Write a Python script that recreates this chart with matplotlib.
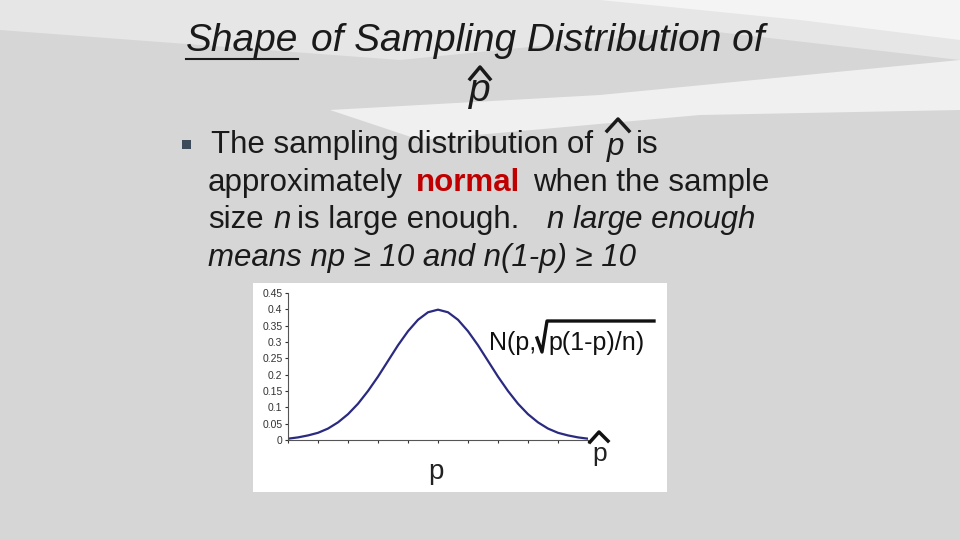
import matplotlib

matplotlib.use("Agg")
import matplotlib.pyplot as plt
import numpy as np
from matplotlib.patches import Polygon, Rectangle

plt.rcParams["font.family"] = ["Liberation Sans", "DejaVu Sans"]

# curve (x in sd units, height)
curve_x = [-3.0, -2.8, -2.6, -2.4, -2.2, -2.0, -1.8, -1.6, -1.4, -1.2, -1.0,
           -0.8, -0.6, -0.4, -0.2, 0.0, 0.2, 0.4, 0.6, 0.8, 1.0, 1.2, 1.4,
           1.6, 1.8, 2.0, 2.2, 2.4, 2.6, 2.8, 3.0]
curve_y = [0.004, 0.008, 0.014, 0.022, 0.035, 0.054, 0.079, 0.111, 0.150,
           0.194, 0.242, 0.290, 0.333, 0.368, 0.391, 0.399, 0.391, 0.368,
           0.333, 0.290, 0.242, 0.194, 0.150, 0.111, 0.079, 0.054, 0.035,
           0.022, 0.014, 0.008, 0.004]
y_ticks = [0, 0.05, 0.1, 0.15, 0.2, 0.25, 0.3, 0.35, 0.4, 0.45]
y_labels = ["0", "0.05", "0.1", "0.15", "0.2", "0.25", "0.3", "0.35", "0.4", "0.45"]
x_ticks = np.arange(-3.0, 3.01, 0.6)

W, H = 960, 540
fig = plt.figure(figsize=(9.6, 5.4), dpi=100)
fig.patch.set_facecolor("#d6d6d6")


def fx(px):
    return px / W


def fy(py):
    return 1 - py / H


# background swooshes
bg = fig.add_axes([0, 0, 1, 1])
bg.set_xlim(0, W)
bg.set_ylim(H, 0)
bg.axis("off")
bg.add_patch(Polygon([[0, 0], [960, 0], [960, 60], [700, 30], [400, 60], [0, 30]],
                     closed=True, facecolor="#e6e6e6", edgecolor="none"))
bg.add_patch(Polygon([[330, 110], [600, 95], [960, 60], [960, 110], [700, 115], [420, 140]],
                     closed=True, facecolor="#f0f0f0", edgecolor="none"))
bg.add_patch(Polygon([[600, 0], [960, 0], [960, 40], [800, 20]],
                     closed=True, facecolor="#f4f4f4", edgecolor="none"))
# white chart image
bg.add_patch(Rectangle((253, 283), 414, 209, facecolor="white", edgecolor="none"))

ax = fig.add_axes([fx(288), fy(440), fx(588 - 288), (440 - 293) / H])
ax.set_facecolor("white")
ax.plot(curve_x, curve_y, color="#2a2a80", lw=1.6)
ax.set_xlim(-3.0, 3.0)
ax.set_ylim(0, 0.45)
ax.set_yticks(y_ticks)
ax.set_yticklabels(y_labels)
ax.set_xticks(x_ticks)
ax.set_xticklabels([])
ax.tick_params(axis="y", labelsize=7.5, colors="#333333", length=2, pad=2)
ax.tick_params(axis="x", length=2, colors="#333333")
for side in ["top", "right"]:
    ax.spines[side].set_visible(False)
for side in ["left", "bottom"]:
    ax.spines[side].set_color("#555555")
    ax.spines[side].set_linewidth(0.8)

# overlay for all text
ov = fig.add_axes([0, 0, 1, 1])
ov.set_xlim(0, W)
ov.set_ylim(H, 0)
ov.axis("off")
ov.patch.set_alpha(0)

title_kw = dict(fontsize=28, style="italic", color="#1a1a1a", va="center", ha="left")
ov.text(186, 41, "Shape", **title_kw)
ov.text(311, 41, "of Sampling Distribution of", **title_kw)
ov.plot([186, 298], [59, 59], color="#1a1a1a", lw=1.5)
ov.text(480, 91, "p", **{**title_kw, "ha": "center"})
ov.plot([470, 480, 490], [79, 67, 79], color="#1a1a1a", lw=2.5)

ov.add_patch(Rectangle((182, 140), 9, 9, facecolor="#3d4a5a", edgecolor="none"))
body_kw = dict(fontsize=22.5, color="#1a1a1a", va="center", ha="left")
ov.text(211, 145, "The sampling distribution of", **body_kw)
ov.text(607, 147, "p", style="italic", **body_kw)
ov.plot([607, 618, 629], [131, 119, 131], color="#1a1a1a", lw=2.5)
ov.text(636, 145, "is", **body_kw)
ov.text(208, 183, "approximately", **body_kw)
ov.text(416, 183, "normal", color="#c00000", fontweight="bold", fontsize=22.5, va="center", ha="left")
ov.text(533, 183, "when the sample", **body_kw)
ov.text(208, 220, "size", **body_kw)
ov.text(273, 220, "n", style="italic", **body_kw)
ov.text(297, 220, "is large enough.", **body_kw)
ov.text(547, 220, "n large enough", style="italic", **body_kw)
ov.text(208, 258, "means np \u2265 10 and n(1-p) \u2265 10", style="italic", **body_kw)

# chart annotations
ov.text(436, 472, "p", fontsize=20, ha="center", va="center", color="#222222")
ov.text(600, 454, "p", fontsize=19, ha="center", va="center", color="#222222")
ov.plot([590, 599, 608], [442, 432, 441], color="#111111", lw=2.5)
ov.text(489, 343, "N(p,", fontsize=18, ha="left", va="center", color="#111111")
ov.text(548, 343, "p(1-p)/n)", fontsize=18, ha="left", va="center", color="#111111")
ov.plot([537, 542, 547, 654], [338, 352, 321, 321], color="#111111", lw=2.4)

fig.savefig("out.png", dpi=100, facecolor=fig.get_facecolor())
